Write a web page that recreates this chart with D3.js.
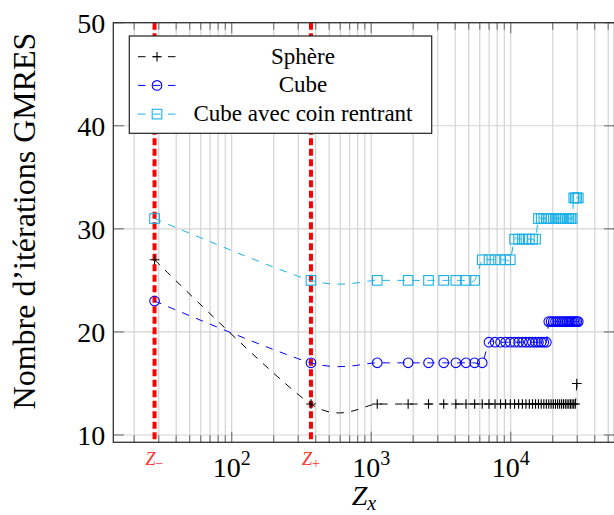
<!DOCTYPE html>
<html>
<head>
<meta charset="utf-8">
<script src="https://cdn.jsdelivr.net/npm/d3@7"></script>
<style>
  body { margin: 0; background: #fff; }
  svg { display: block; }
  text { font-family: "Liberation Serif", "DejaVu Serif", serif; fill: #000; }
</style>
</head>
<body>
<svg id="chart" width="614" height="515"></svg>
<script>
// ---------------- données ----------------
// valeurs de Z_x (abscisse), communes aux trois séries
const zValues = [28, 370, 1105, 1840, 2575, 3310, 4045, 4780, 5515, 6250, 6985,
    7720, 8455, 9190, 9925, 10660, 11395, 12130, 12865, 13600, 14335, 15070,
    15805, 16540, 17275, 18010, 18745, 19480, 20215, 20950, 21685, 22420,
    23155, 23890, 24625, 25360, 26095, 26830, 27565, 28300, 29035, 29770, 30505];

// nombre d'itérations GMRES
const sphereIter = [27, 13, 13, 13, 13, 13, 13, 13, 13, 13, 13,
    13, 13, 13, 13, 13, 13, 13, 13, 13, 13, 13,
    13, 13, 13, 13, 13, 13, 13, 13, 13, 13,
    13, 13, 13, 13, 13, 13, 13, 13, 13, 15];
const cubeIter = [23, 17, 17, 17, 17, 17, 17, 17, 17, 17, 19,
    19, 19, 19, 19, 19, 19, 19, 19, 19, 19, 19,
    19, 19, 19, 19, 21, 21, 21, 21, 21, 21,
    21, 21, 21, 21, 21, 21, 21, 21, 21, 21, 21];
const coinIter = [31, 25, 25, 25, 25, 25, 25, 25, 25, 27, 27,
    27, 27, 27, 27, 29, 29, 29, 29, 29, 29, 29,
    31, 31, 31, 31, 31, 31, 31, 31, 31, 31,
    31, 31, 31, 31, 31, 31, 31, 33, 33, 33, 33];

const seriesNames = ["Sphère", "Cube", "Cube avec coin rentrant"];
const yTicks = [10, 20, 30, 40, 50];
const xMajorTicks = [100, 1000, 10000];
const xMajorExp = ["2", "3", "4"];
// z_- et z_+ : lignes rouges
const zMarks = [28, 370];
const zMarkSub = ["\u2212", "+"];

// ---------------- mise en page ----------------
const svg = d3.select("#chart");
const L = 113.3, R = 614.5, T = 22.7, B = 442.3;

const x = d3.scaleLog().domain([14.17, 55460]).range([L, R]);
const y = d3.scaleLinear().domain([9.29, 50]).range([B, T]);

const gridColor = "#d4d4d4";
const tickColor = "#7a7a7a";

const series = [
    { name: seriesNames[0], values: sphereIter, color: "#000000", mark: "plus" },
    { name: seriesNames[1], values: cubeIter, color: "#0000ff", mark: "circle" },
    { name: seriesNames[2], values: coinIter, color: "#1ab0e8", mark: "square" }
];

// grille
const minorTicks = x.ticks().filter(v => xMajorTicks.indexOf(v) < 0);
const grid = svg.append("g");
grid.selectAll(".vminor").data(minorTicks).join("line")
    .attr("x1", d => x(d)).attr("x2", d => x(d))
    .attr("y1", T).attr("y2", B)
    .attr("stroke", gridColor).attr("stroke-width", 1.2);
grid.selectAll(".vmajor").data(xMajorTicks).join("line")
    .attr("x1", d => x(d)).attr("x2", d => x(d))
    .attr("y1", T).attr("y2", B)
    .attr("stroke", gridColor).attr("stroke-width", 1.2);
grid.selectAll(".hgrid").data(yTicks).join("line")
    .attr("x1", L).attr("x2", R)
    .attr("y1", d => y(d)).attr("y2", d => y(d))
    .attr("stroke", gridColor).attr("stroke-width", 1.2);

// lignes rouges z_- / z_+
svg.append("g").selectAll("line").data(zMarks).join("line")
    .attr("x1", d => x(d)).attr("x2", d => x(d))
    .attr("y1", T).attr("y2", B)
    .attr("stroke", "#ff0000").attr("stroke-width", 4)
    .attr("stroke-dasharray", "7,3.5");

// graduations
const ticks = svg.append("g").attr("stroke", tickColor).attr("stroke-width", 1.2);
minorTicks.forEach(v => {
    ticks.append("line").attr("x1", x(v)).attr("x2", x(v)).attr("y1", B).attr("y2", B - 7);
    ticks.append("line").attr("x1", x(v)).attr("x2", x(v)).attr("y1", T).attr("y2", T + 7);
});
xMajorTicks.forEach(v => {
    ticks.append("line").attr("x1", x(v)).attr("x2", x(v)).attr("y1", B).attr("y2", B - 10.5);
    ticks.append("line").attr("x1", x(v)).attr("x2", x(v)).attr("y1", T).attr("y2", T + 10.5);
});
yTicks.forEach(v => {
    ticks.append("line").attr("x1", L).attr("x2", L + 10.5).attr("y1", y(v)).attr("y2", y(v));
    ticks.append("line").attr("x1", R).attr("x2", R - 10.5).attr("y1", y(v)).attr("y2", y(v));
});

// cadre
svg.append("rect")
    .attr("x", L).attr("y", T).attr("width", R - L).attr("height", B - T)
    .attr("fill", "none").attr("stroke", "#333").attr("stroke-width", 1.3);

// libellés des axes
svg.append("g").selectAll("text").data(yTicks).join("text")
    .attr("x", L - 8).attr("y", d => y(d) + 10)
    .attr("text-anchor", "end")
    .attr("font-size", 28)
    .text(d => d);

xMajorTicks.forEach((v, i) => {
    const t = svg.append("text")
        .attr("x", x(v)).attr("y", 477)
        .attr("text-anchor", "middle")
        .attr("font-size", 28);
    t.append("tspan").text("10");
    t.append("tspan").attr("font-size", 20).attr("dy", -12).text(xMajorExp[i]);
});

zMarks.forEach((v, i) => {
    const t = svg.append("text")
        .attr("x", x(v)).attr("y", 465)
        .attr("text-anchor", "middle")
        .style("fill", "#ff3030");
    t.append("tspan").attr("font-size", 18).attr("font-style", "italic").text("Z");
    t.append("tspan").attr("font-size", 14).attr("dy", 3).text(zMarkSub[i]);
});

const xl = svg.append("text")
    .attr("x", (L + R) / 2).attr("y", 505)
    .attr("text-anchor", "middle");
xl.append("tspan").attr("font-size", 28).attr("font-style", "italic").text("Z");
xl.append("tspan").attr("font-size", 20).attr("font-style", "italic").attr("dy", 5).text("x");

svg.append("text")
    .attr("transform", `translate(35, 221) rotate(-90)`)
    .attr("text-anchor", "middle")
    .attr("font-size", 32)
    .text("Nombre d\u2019itérations GMRES");

// ---------------- courbes ----------------
const line = d3.line()
    .x(d => x(d[0]))
    .y(d => y(d[1]))
    .curve(d3.curveCardinal.tension(0.17));

function drawMark(g, kind, color, cx, cy) {
    const r = 4.8;
    if (kind === "plus") {
        g.append("path")
            .attr("d", `M${cx - r},${cy}H${cx + r}M${cx},${cy - r}V${cy + r}`)
            .attr("stroke", color).attr("stroke-width", 1.1).attr("fill", "none");
    } else if (kind === "circle") {
        g.append("circle").attr("cx", cx).attr("cy", cy).attr("r", r)
            .attr("stroke", color).attr("stroke-width", 1.1).attr("fill", "none");
    } else {
        g.append("rect").attr("x", cx - r).attr("y", cy - r)
            .attr("width", 2 * r).attr("height", 2 * r)
            .attr("stroke", color).attr("stroke-width", 1.1).attr("fill", "none");
    }
}

series.forEach(s => {
    const pts = s.values.map((v, i) => [zValues[i], v]);
    svg.append("path")
        .datum(pts)
        .attr("d", line)
        .attr("fill", "none")
        .attr("stroke", s.color)
        .attr("stroke-width", 1)
        .attr("stroke-dasharray", "7.5,7.5");
    const g = svg.append("g");
    pts.forEach(p => drawMark(g, s.mark, s.color, x(p[0]), y(p[1])));
});

// ---------------- légende ----------------
const lg = svg.append("g");
lg.append("rect")
    .attr("x", 129.3).attr("y", 36).attr("width", 302.4).attr("height", 97.3)
    .attr("fill", "#fff").attr("stroke", "#222").attr("stroke-width", 1.2);

series.forEach((s, i) => {
    const cy = 56.7 + i * 28.7;
    lg.append("line")
        .attr("x1", 138).attr("x2", 176)
        .attr("y1", cy).attr("y2", cy)
        .attr("stroke", s.color).attr("stroke-width", 1)
        .attr("stroke-dasharray", "7.5,7.5");
    drawMark(lg, s.mark, s.color, 157, cy);
    lg.append("text")
        .attr("x", 303).attr("y", cy + 7)
        .attr("text-anchor", "middle")
        .attr("font-size", 23)
        .text(s.name);
});
</script>
</body>
</html>
